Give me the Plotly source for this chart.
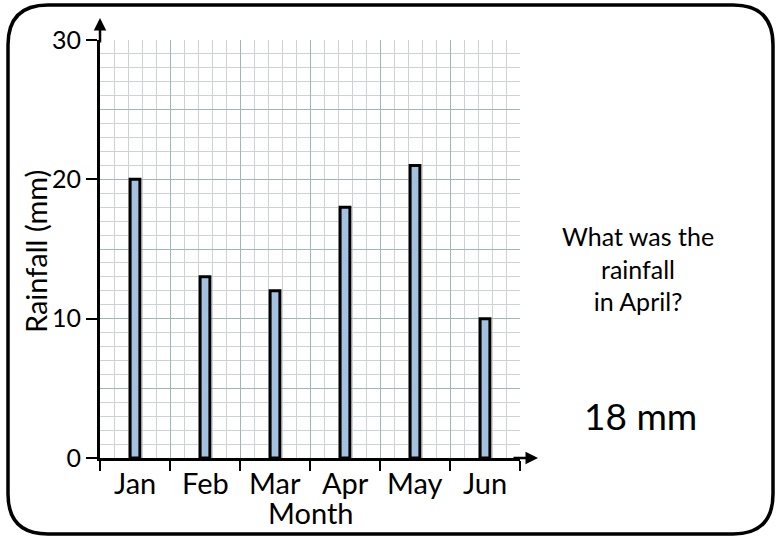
import plotly.graph_objects as go

months = ["Jan", "Feb", "Mar", "Apr", "May", "Jun"]
rainfall = [20, 13, 12, 18, 21, 10]
y_ticks = [0, 10, 20, 30]

W, H = 780, 540
L, R, T, B = 100, 260, 40, 82
PW, PH = W - L - R, H - T - B

FONT = "Lato"
TEAL = "#9fb7b7"
GREY = "#cdd2d4"

# bar centres sit in the middle of each month slot
x_pos = [i + 0.5 for i in range(len(months))]

fig = go.Figure()

fig.add_trace(go.Bar(
    x=x_pos, y=rainfall,
    width=0.14,
    marker=dict(color="#a3c2e2", line=dict(color="black", width=3)),
    hoverinfo="skip",
    showlegend=False,
))

# dummy trace so the second y axis (teal lines every 5) is drawn
fig.add_trace(go.Scatter(x=[0], y=[0], yaxis="y2", mode="markers",
                         marker=dict(opacity=0), hoverinfo="skip", showlegend=False))

fig.update_layout(
    width=W, height=H,
    margin=dict(l=L, r=R, t=T, b=B),
    plot_bgcolor="white", paper_bgcolor="white",
    font=dict(family=FONT, color="black"),
    xaxis=dict(
        range=[0, 6], tickvals=list(range(7)), showticklabels=False,
        ticks="outside", ticklen=10, tickwidth=2, tickcolor="black",
        showgrid=True, gridcolor=TEAL, gridwidth=1,
        minor=dict(dtick=0.2, showgrid=True, gridcolor=GREY, gridwidth=1),
        showline=True, linecolor="black", linewidth=3,
        zeroline=False, fixedrange=True,
    ),
    yaxis=dict(
        range=[0, 30], tickvals=y_ticks, ticktext=[str(v) for v in y_ticks],
        ticks="outside", ticklen=11, tickwidth=2, tickcolor="black",
        tickfont=dict(size=25), ticklabelstandoff=0,
        showgrid=True, gridcolor=TEAL, gridwidth=1,
        minor=dict(dtick=1, showgrid=True, gridcolor=GREY, gridwidth=1),
        showline=True, linecolor="black", linewidth=3,
        zeroline=False, fixedrange=True,
    ),
    yaxis2=dict(
        range=[0, 30], overlaying="y", tickvals=[5, 15, 25],
        showticklabels=False, ticks="", showgrid=True, gridcolor=TEAL,
        zeroline=False, showline=False, fixedrange=True,
    ),
)


def px_x(p):
    return (p - L) / PW


def px_y(p):
    return (H - B - p) / PH


annotations = []
for xp, m in zip(x_pos, months):
    annotations.append(dict(x=xp, y=0, xref="x", yref="y", text=m, showarrow=False,
                            xanchor="center", yanchor="top", yshift=-5,
                            font=dict(size=29)))
annotations.append(dict(x=0.5, y=0, xref="paper", yref="paper", text="Month",
                        showarrow=False, xanchor="center", yanchor="top", yshift=-35,
                        font=dict(size=29)))
annotations.append(dict(x=px_x(35), y=px_y(252), xref="paper", yref="paper",
                        text="Rainfall (mm)", textangle=-90, showarrow=False,
                        xanchor="center", yanchor="middle", font=dict(size=29)))

# axis arrows
annotations.append(dict(x=0, y=1 + 22 / PH, xref="paper", yref="paper", text="",
                        showarrow=True, arrowhead=2, arrowsize=1, arrowwidth=2.5,
                        arrowcolor="black", ax=0, ay=26))
annotations.append(dict(x=1 + 18 / PW, y=0, xref="paper", yref="paper", text="",
                        showarrow=True, arrowhead=2, arrowsize=1, arrowwidth=2.5,
                        arrowcolor="black", ax=-26, ay=0))

# question text on the right
annotations.append(dict(x=px_x(638), y=px_y(268), xref="paper", yref="paper",
                        text="What was the<br>rainfall<br>in April?", showarrow=False,
                        xanchor="center", yanchor="middle",
                        align="center", font=dict(size=25)))
annotations.append(dict(x=px_x(640), y=px_y(415), xref="paper", yref="paper",
                        text="18 mm", showarrow=False,
                        xanchor="center", yanchor="middle", font=dict(size=37)))

fig.update_layout(annotations=annotations)

# rounded frame around everything
x0, x1, y0, y1, r = 8, 773, 5, 534, 40
pts = [
    f"M {px_x(x0 + r)},{px_y(y0)}",
    f"L {px_x(x1 - r)},{px_y(y0)}",
    f"Q {px_x(x1)},{px_y(y0)} {px_x(x1)},{px_y(y0 + r)}",
    f"L {px_x(x1)},{px_y(y1 - r)}",
    f"Q {px_x(x1)},{px_y(y1)} {px_x(x1 - r)},{px_y(y1)}",
    f"L {px_x(x0 + r)},{px_y(y1)}",
    f"Q {px_x(x0)},{px_y(y1)} {px_x(x0)},{px_y(y1 - r)}",
    f"L {px_x(x0)},{px_y(y0 + r)}",
    f"Q {px_x(x0)},{px_y(y0)} {px_x(x0 + r)},{px_y(y0)}",
    "Z",
]
fig.add_shape(type="path", path=" ".join(pts), xref="paper", yref="paper",
              line=dict(color="black", width=3.5), layer="above")

fig.write_html("out.html", config={"displayModeBar": False},
               post_script="document.body.style.margin='0';")
